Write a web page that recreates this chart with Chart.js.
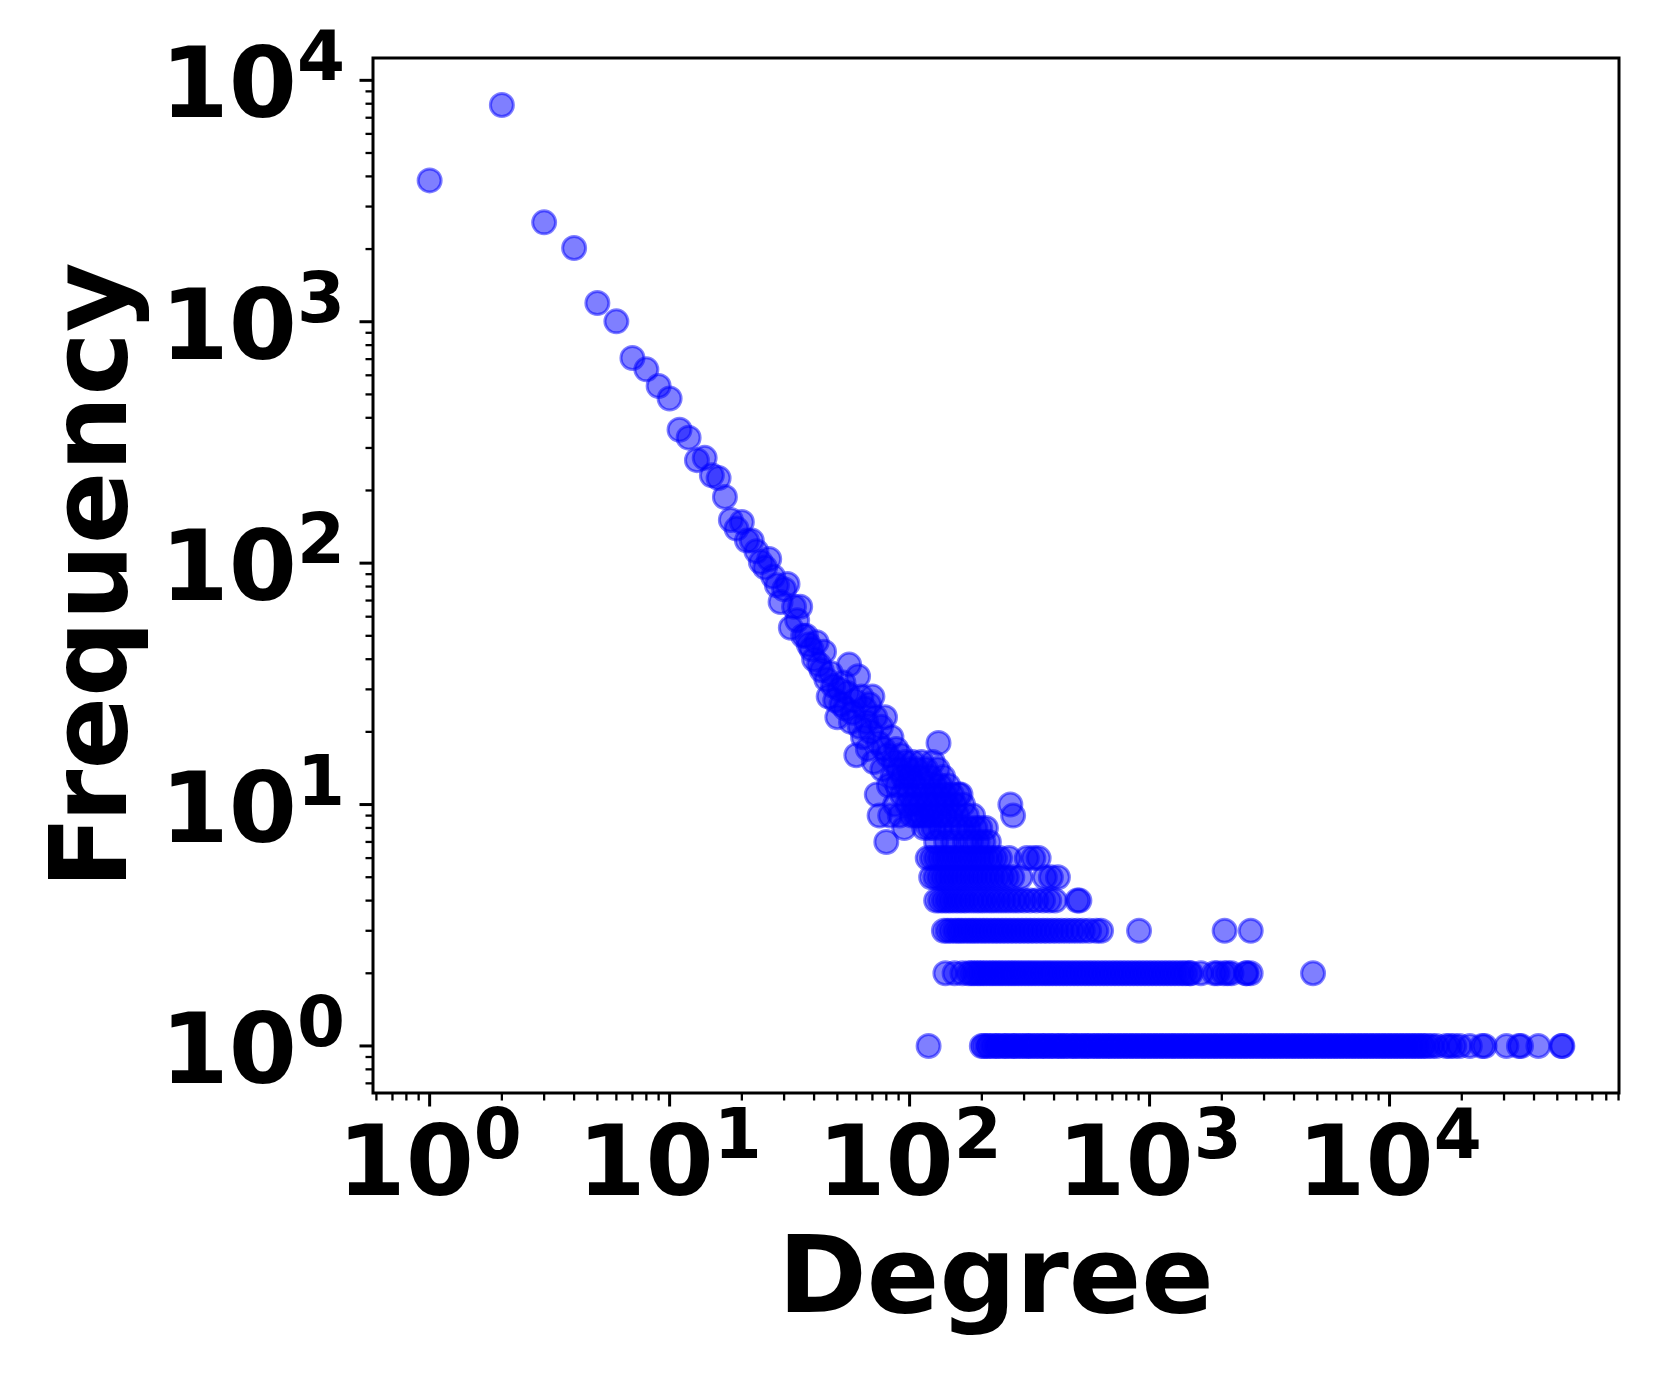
<!DOCTYPE html>
<html>
<head>
<meta charset="utf-8">
<script src="https://cdn.jsdelivr.net/npm/chart.js@4.4.0/dist/chart.umd.min.js"></script>
<style>
  html, body { margin: 0; padding: 0; background: #fff; overflow: hidden; }
  canvas { display: block; }
</style>
</head>
<body>
<canvas id="myChart" width="1661" height="1384"></canvas>
<script>
"use strict";

// degrees 1..60, one frequency each
const headDegree = [
  1, 2, 3, 4, 5, 6, 7, 8, 9, 10, 11, 12, 13, 14, 15, 16, 17, 18, 19, 20,
  21, 22, 23, 24, 25, 26, 27, 28, 29, 30, 31, 32, 33, 34, 35, 36, 37, 38, 39, 40,
  41, 42, 43, 44, 45, 46, 47, 48, 49, 50, 51, 52, 53, 54, 55, 56, 57, 58, 59, 60,
];
const headFreq = [
  3850, 7900, 2580, 2020, 1195, 1004, 708, 635, 542, 481, 357, 331, 267, 273, 231, 225, 188, 151, 139, 148,
  124, 124, 112, 101, 96, 104, 88, 81, 69, 78, 82, 54, 66, 58, 66, 50, 50, 46, 44, 40,
  47, 38, 36, 43, 33, 28, 35, 31, 27, 23, 30, 26, 32, 25, 29, 38, 22, 24, 27, 16,
];

// scattered band, degrees 61..270 with frequency >= 7
const bandDegree = [
  61, 62, 63, 64, 65, 66, 67, 68, 69, 70, 71, 72, 73, 74, 75, 76, 77, 78, 79, 80,
  81, 82, 83, 84, 85, 86, 87, 88, 89, 90, 91, 92, 93, 94, 95, 96, 97, 98, 99, 100,
  101, 102, 103, 104, 105, 106, 107, 108, 109, 110, 111, 112, 113, 114, 115, 116, 117, 118, 119, 121,
  122, 123, 124, 125, 126, 127, 128, 129, 130, 131, 132, 133, 134, 135, 136, 138, 139, 140, 142, 143,
  145, 146, 148, 150, 152, 154, 156, 158, 160, 163, 165, 167, 170, 173, 176, 180, 184, 188, 192, 197,
  203, 208, 214, 263, 270,
];
const bandFreq = [
  34, 21, 28, 19, 25, 22, 17, 26, 20, 28, 15, 23, 11, 18, 9, 21, 14, 17, 23, 7,
  16, 12, 9, 19, 13, 15, 10, 17, 12, 14, 9, 16, 11, 13, 8, 15, 12, 10, 14, 11,
  13, 9, 15, 10, 12, 9, 14, 11, 9, 13, 10, 15, 9, 12, 8, 11, 14, 9, 10, 8,
  13, 11, 9, 15, 8, 12, 10, 7, 11, 14, 18, 9, 12, 8, 10, 13, 9, 11, 7, 10,
  12, 8, 9, 11, 7, 10, 8, 9, 11, 11, 8, 10, 7, 9, 8, 7, 9, 8, 7, 8,
  7, 8, 7, 10, 9,
];

// low-frequency rows: degrees seen at each count
const freq6Degrees = [119, 124, 129, 134, 139, 144, 149, 155, 161, 167, 173, 180, 187, 194, 201, 209, 218, 227, 238, 260, 308, 328, 345];
const freq5Degrees = [123, 128, 133, 138, 143, 149, 155, 161, 167, 174, 181, 188, 196, 204, 212, 221, 231, 242, 254, 268, 290, 366, 388, 415];
const freq4Degrees = [129, 134, 139, 144, 149, 155, 161, 167, 173, 181, 189, 197, 205, 215, 224, 235, 246, 258, 271, 284, 300, 318, 338, 360, 382, 404, 500, 510];
const freq3Degrees = [
  139, 144, 149, 155, 160, 165, 171, 177, 183, 189, 196, 203, 210, 218, 226, 234, 243, 252, 262, 272,
  283, 294, 306, 318, 331, 345, 360, 375, 392, 410, 430, 452, 475, 500, 527, 560, 600, 628, 904, 2055, 2640,
];
const freq2Degrees = [
  141, 154, 166, 176, 181, 186, 192, 197, 203, 209, 216, 222, 229, 236, 243, 251, 259, 267, 275, 284,
  293, 303, 313, 323, 334, 345, 357, 369, 381, 394, 408, 422, 437, 452, 468, 485, 502, 520, 539, 558,
  578, 599, 621, 644, 667, 692, 717, 743, 770, 798, 828, 858, 890, 922, 956, 991, 1027, 1065, 1104, 1145,
  1187, 1230, 1275, 1322, 1370, 1413, 1466, 1486, 1637, 1862, 1920, 2038, 2113, 2195, 2519, 2541, 2638, 4800,
];
const freq1Degrees = [
  120, 200, 204, 211, 215, 223, 230, 234, 243, 251, 255, 266, 272, 278, 289, 295, 306, 313, 320, 333,
  339, 352, 361, 369, 384, 390, 405, 417, 426, 441, 450, 467, 482, 490, 509, 521, 540, 552, 569, 590,
  601, 624, 637, 660, 676, 694, 719, 735, 762, 779, 808, 825, 856, 874, 906, 927, 960, 981, 1017, 1040,
  1077, 1102, 1141, 1166, 1210, 1236, 1280, 1309, 1358, 1387, 1438, 1470, 1523, 1556, 1614, 1649, 1710, 1746, 1811, 1852,
  1918, 1962, 2033, 2079, 2152, 2203, 2281, 2333, 2417, 2469, 2560, 2616, 2712, 2770, 2873, 2936, 3042, 3110, 3222, 3295,
  3413, 3489, 3616, 3697, 3830, 3916, 4058, 4148, 4298, 4394, 4553, 4655, 4823, 4930, 5110, 5222, 5413, 5532, 5734, 5860,
  6074, 6208, 6434, 6576, 6816, 6966, 7220, 7380, 7648, 7817, 8102, 8281, 8582, 8772, 9091, 9292, 9630, 9843, 10200, 10430,
  10810, 11050, 11450, 11700, 12130, 12400, 12850, 13130, 13610, 13910, 14420, 15000, 15700, 17200, 17800, 18600, 19600, 21600, 24300, 24900,
  30700, 34600, 35300, 41700, 52100, 52500,
];

const xTitle = "Degree";
const yTitle = "Frequency";

// build point list
const points = [];
headDegree.forEach((d, i) => points.push({ x: d, y: headFreq[i] }));
bandDegree.forEach((d, i) => points.push({ x: d, y: bandFreq[i] }));
[
  [6, freq6Degrees],
  [5, freq5Degrees],
  [4, freq4Degrees],
  [3, freq3Degrees],
  [2, freq2Degrees],
  [1, freq1Degrees],
].forEach(([f, list]) => list.forEach((d) => points.push({ x: d, y: f })));

// matplotlib-like 5% margins in log space
const logLimits = (vals) => {
  const lo = Math.log10(Math.min(...vals));
  const hi = Math.log10(Math.max(...vals));
  const pad = 0.05 * (hi - lo);
  return [Math.pow(10, lo - pad), Math.pow(10, hi + pad)];
};
const [xMin, xMax] = logLimits(points.map((p) => p.x));
const [yMin, yMax] = logLimits(points.map((p) => p.y));

const FONT = '"DejaVu Sans", sans-serif';
const TICK_FONT = 98;
const SUP_FONT = 69;

const drawPow = (ctx, exp, x, baseY, align) => {
  ctx.font = `bold ${TICK_FONT}px ${FONT}`;
  const wBase = ctx.measureText("10").width;
  ctx.font = `bold ${SUP_FONT}px ${FONT}`;
  const wSup = ctx.measureText(String(exp)).width;
  const total = wBase + wSup;
  const start = align === "right" ? x - total : x - total / 2;
  ctx.textAlign = "left";
  ctx.textBaseline = "alphabetic";
  ctx.font = `bold ${TICK_FONT}px ${FONT}`;
  ctx.fillText("10", start, baseY);
  ctx.font = `bold ${SUP_FONT}px ${FONT}`;
  ctx.fillText(String(exp), start + wBase, baseY - 37);
};

const logTicks = (scale) => {
  const out = [];
  const k0 = Math.floor(Math.log10(scale.min));
  const k1 = Math.ceil(Math.log10(scale.max));
  for (let k = k0; k <= k1; k++) {
    for (let m = 1; m < 10; m++) {
      const v = m * Math.pow(10, k);
      if (v >= scale.min && v <= scale.max) out.push({ v, k, major: m === 1 });
    }
  }
  return out;
};

const axesPlugin = {
  id: "axesPlugin",
  afterDraw(chart) {
    const { ctx, chartArea: a } = chart;
    const xs = chart.scales.x;
    const ys = chart.scales.y;
    ctx.save();
    ctx.strokeStyle = "#000";
    ctx.fillStyle = "#000";

    // frame
    ctx.lineWidth = 3;
    ctx.strokeRect(a.left, a.top, a.right - a.left, a.bottom - a.top);

    // x ticks
    logTicks(xs).forEach((t) => {
      const px = xs.getPixelForValue(t.v);
      ctx.lineWidth = t.major ? 3 : 2.3;
      ctx.beginPath();
      ctx.moveTo(px, a.bottom);
      ctx.lineTo(px, a.bottom + (t.major ? 13.5 : 7.5));
      ctx.stroke();
      if (t.major) drawPow(ctx, t.k, px, a.bottom + 102, "center");
    });

    // y ticks
    logTicks(ys).forEach((t) => {
      const py = ys.getPixelForValue(t.v);
      ctx.lineWidth = t.major ? 3 : 2.3;
      ctx.beginPath();
      ctx.moveTo(a.left, py);
      ctx.lineTo(a.left - (t.major ? 13.5 : 7.5), py);
      ctx.stroke();
      if (t.major) drawPow(ctx, t.k, a.left - 28, py + 37, "right");
    });

    // axis titles
    ctx.font = `bold 107px ${FONT}`;
    ctx.textAlign = "center";
    ctx.textBaseline = "alphabetic";
    ctx.fillText(xTitle, (a.left + a.right) / 2, 1312);
    ctx.save();
    ctx.translate(126, (a.top + a.bottom) / 2);
    ctx.rotate(-Math.PI / 2);
    ctx.fillText(yTitle, 0, 0);
    ctx.restore();

    ctx.restore();
  },
};

new Chart("myChart", {
  type: "scatter",
  data: {
    datasets: [
      {
        data: points,
        pointRadius: 11.5,
        pointHoverRadius: 11.5,
        pointBorderWidth: 3,
        pointBackgroundColor: "rgba(0, 0, 255, 0.5)",
        pointBorderColor: "rgba(0, 0, 255, 0.5)",
      },
    ],
  },
  options: {
    responsive: false,
    animation: false,
    devicePixelRatio: 1,
    layout: {
      autoPadding: false,
      padding: { top: 58, right: 42, left: 0, bottom: 0 },
    },
    plugins: {
      legend: { display: false },
      tooltip: { enabled: false },
    },
    scales: {
      x: {
        type: "logarithmic",
        bounds: "data",
        min: xMin,
        max: xMax,
        grid: { display: false },
        border: { display: false },
        ticks: { display: false },
        afterFit: (s) => {
          s.height = 291;
        },
      },
      y: {
        type: "logarithmic",
        bounds: "data",
        min: yMin,
        max: yMax,
        grid: { display: false },
        border: { display: false },
        ticks: { display: false },
        afterFit: (s) => {
          s.width = 373;
        },
      },
    },
  },
  plugins: [axesPlugin],
});
</script>
</body>
</html>
